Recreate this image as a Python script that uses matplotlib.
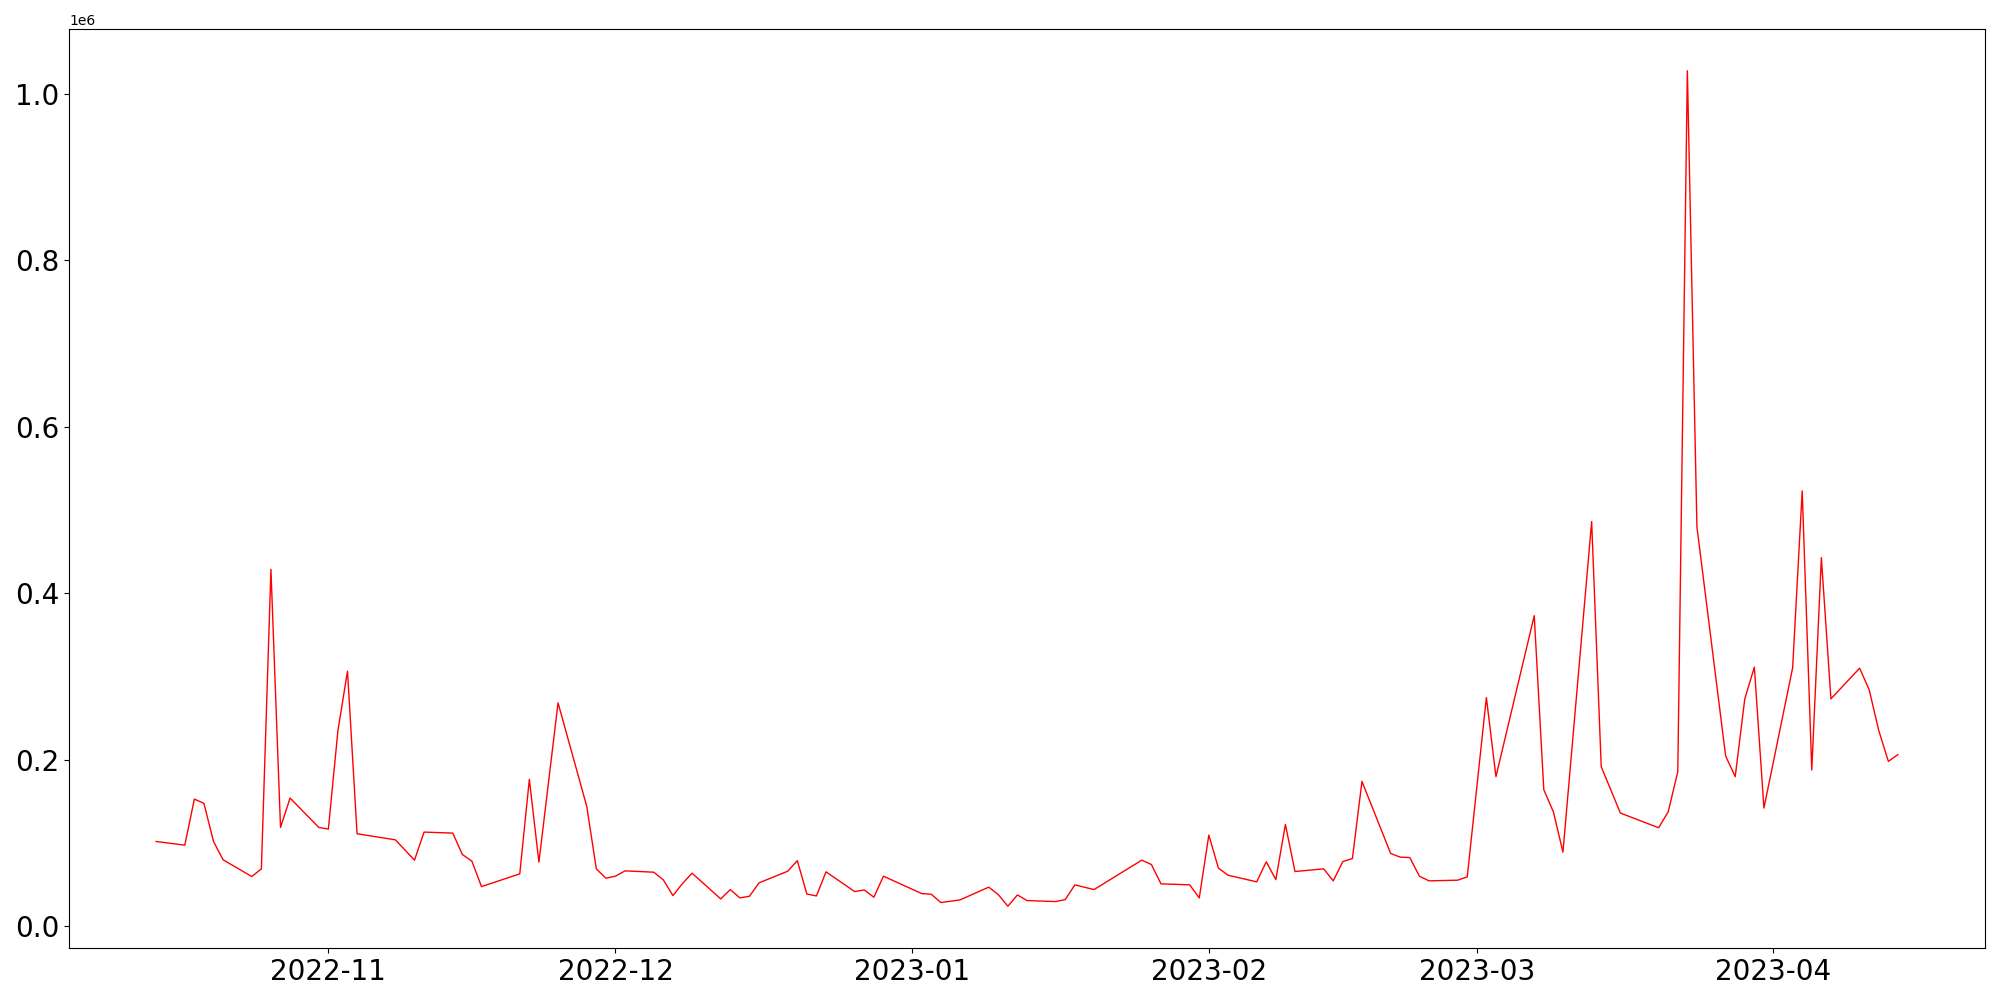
import matplotlib
matplotlib.use("Agg")
import matplotlib.pyplot as plt
import pandas as pd

dates = [
    "2022-10-14", "2022-10-17", "2022-10-18", "2022-10-19", "2022-10-20", "2022-10-21",
    "2022-10-24", "2022-10-25", "2022-10-26", "2022-10-27", "2022-10-28",
    "2022-10-31", "2022-11-01", "2022-11-02", "2022-11-03", "2022-11-04",
    "2022-11-08", "2022-11-10", "2022-11-11",
    "2022-11-14", "2022-11-15", "2022-11-16", "2022-11-17",
    "2022-11-21", "2022-11-22", "2022-11-23", "2022-11-25",
    "2022-11-28", "2022-11-29", "2022-11-30", "2022-12-01", "2022-12-02",
    "2022-12-05", "2022-12-06", "2022-12-07", "2022-12-08", "2022-12-09",
    "2022-12-12", "2022-12-13", "2022-12-14", "2022-12-15", "2022-12-16",
    "2022-12-19", "2022-12-20", "2022-12-21", "2022-12-22", "2022-12-23",
    "2022-12-26", "2022-12-27", "2022-12-28", "2022-12-29",
    "2023-01-02", "2023-01-03", "2023-01-04", "2023-01-06",
    "2023-01-09", "2023-01-10", "2023-01-11", "2023-01-12", "2023-01-13",
    "2023-01-16", "2023-01-17", "2023-01-18", "2023-01-20",
    "2023-01-25", "2023-01-26", "2023-01-27",
    "2023-01-30", "2023-01-31", "2023-02-01", "2023-02-02", "2023-02-03",
    "2023-02-06", "2023-02-07", "2023-02-08", "2023-02-09", "2023-02-10",
    "2023-02-13", "2023-02-14", "2023-02-15", "2023-02-16", "2023-02-17",
    "2023-02-20", "2023-02-21", "2023-02-22", "2023-02-23", "2023-02-24",
    "2023-02-27", "2023-02-28", "2023-03-02", "2023-03-03",
    "2023-03-07", "2023-03-08", "2023-03-09", "2023-03-10",
    "2023-03-13", "2023-03-14", "2023-03-16",
    "2023-03-20", "2023-03-21", "2023-03-22", "2023-03-23", "2023-03-24",
    "2023-03-27", "2023-03-28", "2023-03-29", "2023-03-30", "2023-03-31",
    "2023-04-03", "2023-04-04", "2023-04-05", "2023-04-06", "2023-04-07",
    "2023-04-10", "2023-04-11", "2023-04-12", "2023-04-13", "2023-04-14",
]

values = [
    101500, 97100, 152500, 147300, 101500, 79500,
    59400, 68600, 428600, 118400, 153700,
    118400, 116400, 234800, 306200, 110800,
    103500, 79100, 112800,
    111600, 85900, 77800, 47300,
    62600, 176200, 76700, 268100,
    143700, 68600, 57400, 59800, 66200,
    64600, 55400, 36500, 50900, 63400,
    32500, 43700, 33700, 35700, 51800,
    65800, 78500, 38300, 36100, 65000,
    41300, 43300, 34500, 59800,
    38900, 38100, 28100, 31300,
    46600, 37700, 23700, 37300, 30500,
    29300, 31700, 49400, 43700,
    79100, 73800, 50600,
    49400, 33700, 109200, 69500, 61000,
    53000, 77100, 55700, 122000, 65400,
    68600, 54200, 77400, 81000, 173700,
    87100, 82700, 82200, 59800, 54200,
    55000, 59000, 274500, 179400,
    372900, 163700, 137200, 88700,
    486000, 191400, 135700,
    118000, 137200, 185400, 1027800, 479600,
    204300, 179400, 272900, 311000, 141700,
    310200, 522900, 187400, 442700, 272900,
    309800, 283800, 234800, 197800, 205900,
]

x = pd.to_datetime(dates)

fig = plt.figure(figsize=(20, 10), dpi=100)
ax = fig.add_axes([0.0345, 0.052, 0.958, 0.919])
ax.plot(x, values, color="red", linewidth=1.0)
ax.tick_params(axis="both", labelsize=20)

fig.savefig("out.png", dpi=100)
